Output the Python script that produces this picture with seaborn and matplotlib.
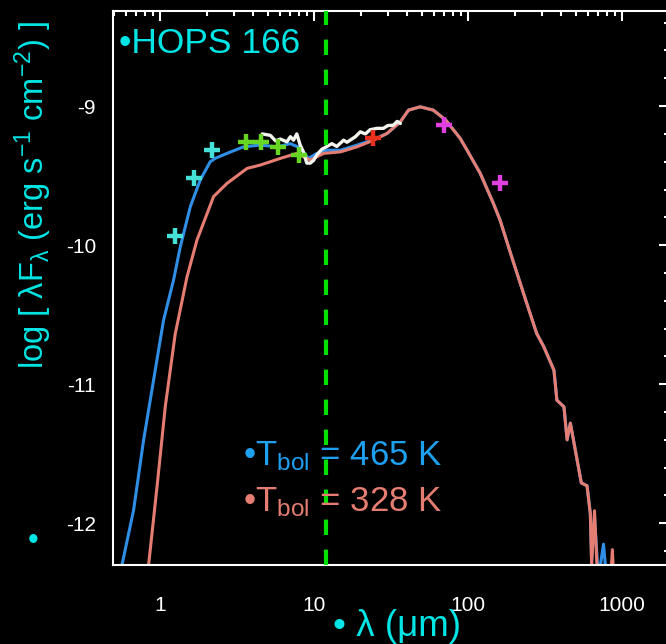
import matplotlib
matplotlib.use("Agg")
import matplotlib.pyplot as plt
from matplotlib.ticker import MultipleLocator, LogLocator, NullFormatter
import numpy as np
import pandas as pd
import seaborn as sns

# ---------------- data ----------------
# model SED, Tbol = 465 K (blue)
wave_blue = [0.55, 0.564, 0.671, 0.779, 0.905, 1.05, 1.22, 1.35, 1.57, 1.82, 2.11, 2.27,
             2.71, 3.47, 4.46, 5.72, 6.98, 8.10, 9.17, 10.4, 12.1, 14.8, 18.9, 24.3, 29.7,
             36.2, 40.9, 48.7, 59.3, 71.3, 88.6, 98.2, 119.6, 145.6, 160.8, 196, 240, 278,
             309, 360, 376, 418, 438, 460, 542, 590, 620, 632, 660, 700, 755, 790]
logf_blue = [-12.40, -12.30, -11.906, -11.403, -10.97, -10.54, -10.25, -10.01, -9.72, -9.53,
             -9.40, -9.376, -9.34, -9.293, -9.28, -9.293, -9.27, -9.30, -9.376, -9.34, -9.317,
             -9.317, -9.281, -9.240, -9.197, -9.113, -9.029, -9.005, -9.029, -9.10, -9.232,
             -9.317, -9.484, -9.70, -9.82, -10.12, -10.42, -10.635, -10.73, -10.90, -11.115,
             -11.163, -11.40, -11.28, -11.71, -11.73, -11.93, -12.27, -11.95, -12.40, -12.15,
             -12.40]

# model SED, Tbol = 328 K (salmon)
wave_red = [0.82, 0.84, 0.952, 1.078, 1.25, 1.49, 1.73, 2.22, 2.71, 3.66, 4.46, 6.02, 7.71,
            9.42, 11.5, 14.8, 18.9, 24.3, 29.7, 36.2, 40.9, 48.7, 59.3, 71.3, 88.6, 98.2,
            119.6, 145.6, 160.8, 196, 240, 278, 309, 360, 376, 418, 438, 460, 542, 590, 620,
            632, 660, 690, 840, 862, 880]
logf_red = [-12.40, -12.30, -11.74, -11.16, -10.64, -10.23, -9.964, -9.65, -9.556, -9.448,
            -9.424, -9.376, -9.34, -9.388, -9.34, -9.329, -9.293, -9.245, -9.196, -9.113,
            -9.029, -9.005, -9.029, -9.10, -9.232, -9.317, -9.484, -9.70, -9.82, -10.12,
            -10.42, -10.635, -10.73, -10.90, -11.115, -11.163, -11.40, -11.28, -11.71, -11.73,
            -11.93, -12.30, -11.91, -12.40, -12.40, -12.19, -12.40]

# Spitzer IRS spectrum (white)
wave_irs = [4.59, 5.18, 5.6, 6.02, 6.64, 7.0, 7.33, 7.7, 8.10, 8.5, 8.94, 9.42, 9.9, 10.4,
            11.2, 12.1, 13.0, 14.0, 15.5, 16.3, 17.1, 18.5, 19.9, 21.5, 23.0, 25.5, 28.1,
            30.0, 32.7, 34.5, 36.2]
logf_irs = [-9.20, -9.21, -9.25, -9.237, -9.257, -9.22, -9.245, -9.20, -9.28, -9.33, -9.41,
            -9.41, -9.39, -9.35, -9.31, -9.29, -9.27, -9.29, -9.245, -9.26, -9.245, -9.22,
            -9.185, -9.20, -9.17, -9.16, -9.16, -9.14, -9.137, -9.11, -9.125]

# photometry
wave_2mass = [1.25, 1.65, 2.17]
logf_2mass = [-9.935, -9.518, -9.317]
wave_irac = [3.6, 4.5, 5.8, 8.0]
logf_irac = [-9.257, -9.257, -9.293, -9.35]
wave_mips = [24.0]
logf_mips = [-9.232]
wave_pacs = [70.0, 160.0]
logf_pacs = [-9.137, -9.556]

irs_cut = 12.0
xtick_vals = [1, 10, 100, 1000]
xtick_labels = ["1", "10", "100", "1000"]
ytick_vals = [-12, -11, -10, -9]
ytick_labels = ["-12", "-11", "-10", "-9"]

# ---------------- style ----------------
CYAN = "#00e5e5"
BLUE_LINE = "#2f8fe6"
BLUE_TXT = "#1ea0f0"
SALMON = "#e57d72"
sns.set_style("dark", rc={
    "axes.facecolor": "black", "figure.facecolor": "black",
    "axes.edgecolor": "white", "axes.grid": False,
    "xtick.color": "white", "ytick.color": "white",
})
plt.rcParams['font.family'] = ['Liberation Sans', 'DejaVu Sans']
plt.rcParams['mathtext.fontset'] = 'custom'
plt.rcParams['mathtext.rm'] = 'Liberation Sans'
plt.rcParams['mathtext.it'] = 'Liberation Sans:italic'
plt.rcParams['mathtext.bf'] = 'Liberation Sans:bold'
plt.rcParams['axes.unicode_minus'] = False

fig = plt.figure(figsize=(6.66, 6.44), dpi=100)
ax = fig.add_axes([0.169, 0.1227, 0.835, 0.860])
ax.set_xscale('log')

sns.lineplot(x=wave_blue, y=logf_blue, sort=False, estimator=None, color=BLUE_LINE,
             linewidth=2.2, ax=ax)
sns.lineplot(x=wave_red, y=logf_red, sort=False, estimator=None, color=SALMON,
             linewidth=2.2, ax=ax)
sns.lineplot(x=wave_irs, y=logf_irs, sort=False, estimator=None, color="#f4f4ee",
             linewidth=2.4, ax=ax)

ax.axvline(irs_cut, color="#00e000", linewidth=3, dashes=(3.7, 3.5), zorder=5)

for wx, wy, c in [(wave_2mass, logf_2mass, "#45e0d8"), (wave_irac, logf_irac, "#66d622"),
                  (wave_mips, logf_mips, "#e8301e"), (wave_pacs, logf_pacs, "#e040e0")]:
    sns.scatterplot(x=wx, y=wy, marker="+", s=130, linewidth=3.2, color=c, ax=ax, zorder=6)

ax.set_xlim(0.49, 2000)
ax.set_ylim(-12.30, -8.317)
ax.set_xticks(xtick_vals, labels=xtick_labels)
ax.xaxis.set_minor_locator(LogLocator(base=10, subs=np.arange(2, 10)))
ax.xaxis.set_minor_formatter(NullFormatter())
ax.set_yticks(ytick_vals, labels=ytick_labels)
ax.yaxis.set_minor_locator(MultipleLocator(0.2))
ax.tick_params(which='both', direction='in', top=True, right=True, colors='white', width=1.5)
ax.tick_params(which='major', length=7.5, labelsize=15)
ax.tick_params(which='minor', length=3.8)
ax.tick_params(axis='x', which='major', pad=22)
ax.tick_params(axis='y', which='major', pad=12)
for s in ax.spines.values():
    s.set_color('white')
    s.set_linewidth(1.5)
ax.set_xlabel("")
ax.set_ylabel("")

fig.text(119 / 666, 1 - 53 / 644, "•HOPS 166", color=CYAN, fontsize=25.5, va='baseline', ha='left')
fig.text(243 / 666, 1 - 465 / 644, "•T$_{\\mathrm{bol}}$ = 465 K", color=BLUE_TXT, fontsize=25,
         va='baseline', ha='left')
fig.text(243 / 666, 1 - 511 / 644, "•T$_{\\mathrm{bol}}$ = 328 K", color=SALMON, fontsize=25,
         va='baseline', ha='left')
fig.text(33 / 666, 1 - 195 / 644, "log [ λF$_{\\mathrm{λ}}$ (erg s$^{\\mathrm{-1}}$ cm$^{\\mathrm{-2}}$) ]",
         color=CYAN, fontsize=23.5, rotation=90, ha='center', va='center')
fig.text(33 / 666, 1 - 541 / 644, "•", color=CYAN, fontsize=22, ha='center', va='center')
fig.text(333 / 666, 1 - 636 / 644, "• λ (μm)", color=CYAN, fontsize=26.5, ha='left', va='baseline')

fig.savefig("out.png", dpi=100, facecolor="black")
